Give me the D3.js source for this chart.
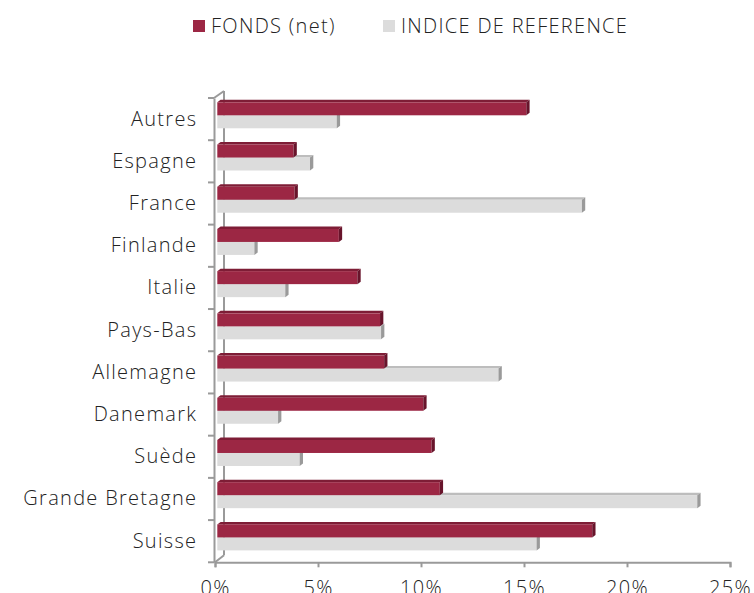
<!DOCTYPE html>
<html>
<head>
<meta charset="utf-8">
<script src="https://cdn.jsdelivr.net/npm/d3@7"></script>
<style>
  html, body { margin: 0; padding: 0; background: #fff; }
  svg text { font-family: "Open Sans", sans-serif; font-weight: 300; fill: #222; letter-spacing: 1.3px; }
</style>
</head>
<body>
<svg id="chart" width="754" height="593"></svg>
<script>
// values, in %
const categories = ["Autres", "Espagne", "France", "Finlande", "Italie", "Pays-Bas",
                    "Allemagne", "Danemark", "Suède", "Grande Bretagne", "Suisse"];
const fonds = [15.0, 3.7, 3.75, 5.9, 6.8, 7.9, 8.1, 10.0, 10.4, 10.8, 18.2];
const indice = [5.8, 4.5, 17.7, 1.8, 3.3, 7.95, 13.65, 2.95, 4.0, 23.3, 15.5];
const seriesNames = ["FONDS (net)", "INDICE DE REFERENCE"];
const xTicks = [0, 5, 10, 15, 20, 25];

const colors = {
    fonds: { front: "#9c2744", top: "#7e1d36", side: "#68142b" },
    indice: { front: "#dcdcdc", top: "#bdbdbd", side: "#9a9a9a" }
};

const svg = d3.select("#chart");

const x = d3.scaleLinear().domain([0, 25]).range([215, 730]);
const y = d3.scaleBand().domain(categories).range([98, 562.3]);

// 3d offsets
const wall = { dx: 9, dy: -7 };
const depth = { dx: 3.3, dy: -2.5 };
const shift = 2.3;
const barH = 13;
const axisColor = "#9a9a9a";

// back wall + floor edges
const g = svg.append("g");
g.append("line")
    .attr("x1", x(0) + wall.dx).attr("x2", x(0) + wall.dx)
    .attr("y1", y.range()[0] + wall.dy).attr("y2", y.range()[1] + wall.dy)
    .attr("stroke", axisColor).attr("stroke-width", 2);
g.append("line")
    .attr("x1", x(0) - 1).attr("y1", y.range()[0])
    .attr("x2", x(0) + wall.dx).attr("y2", y.range()[0] + wall.dy)
    .attr("stroke", axisColor).attr("stroke-width", 2);
g.append("line")
    .attr("x1", x(0)).attr("y1", y.range()[1])
    .attr("x2", x(0) + wall.dx).attr("y2", y.range()[1] + wall.dy)
    .attr("stroke", axisColor).attr("stroke-width", 2);

function drawBar(sel, v, top, c) {
    const x0 = x(0) + shift, x1 = x(v) + shift;
    sel.append("polygon")
        .attr("points", [[x0, top], [x0 + depth.dx, top + depth.dy], [x1 + depth.dx, top + depth.dy], [x1, top]].join(" "))
        .attr("fill", c.top);
    sel.append("rect")
        .attr("x", x0).attr("y", top)
        .attr("width", x1 - x0).attr("height", barH)
        .attr("fill", c.front);
    sel.append("polygon")
        .attr("points", [[x1, top], [x1 + depth.dx, top + depth.dy], [x1 + depth.dx, top + barH + depth.dy], [x1, top + barH]].join(" "))
        .attr("fill", c.side);
}

const bars = svg.append("g");
categories.forEach((cat, i) => {
    const redTop = y(cat) + 4.3;
    const cg = bars.append("g");
    drawBar(cg, indice[i], redTop + barH, colors.indice);
    drawBar(cg, fonds[i], redTop, colors.fonds);
});

// front vertical axis
const yAxis = svg.append("g").attr("transform", "translate(" + (x(0) - 1) + ",0)")
    .call(d3.axisLeft(y).tickSize(0).tickPadding(16.7));
yAxis.select(".domain").attr("stroke", axisColor).attr("stroke-width", 2);
yAxis.selectAll("text").attr("font-size", 20).attr("fill", "#222");
// boundary ticks between categories
yAxis.selectAll(".bnd")
    .data(d3.range(categories.length + 1))
    .join("line")
    .attr("x1", -6).attr("x2", 0)
    .attr("y1", i => y.range()[0] + i * y.step())
    .attr("y2", i => y.range()[0] + i * y.step())
    .attr("stroke", axisColor).attr("stroke-width", 2);

// bottom axis
const xAxis = svg.append("g").attr("transform", "translate(0," + y.range()[1] + ")")
    .call(d3.axisBottom(x).tickValues(xTicks).tickFormat(d => d + "%").tickSize(5).tickPadding(14));
xAxis.select(".domain").attr("stroke", axisColor).attr("stroke-width", 2);
xAxis.selectAll(".tick line").attr("stroke", axisColor).attr("stroke-width", 2);
xAxis.selectAll("text").attr("font-size", 20).attr("fill", "#222");

// legend
const legendX = [193, 383];
const legend = svg.append("g");
seriesNames.forEach((name, i) => {
    legend.append("rect")
        .attr("x", legendX[i]).attr("y", 20)
        .attr("width", 12).attr("height", 12)
        .attr("fill", i === 0 ? colors.fonds.front : colors.indice.front);
    legend.append("text")
        .attr("x", legendX[i] + 18).attr("y", 33)
        .attr("font-size", 20)
        .text(name);
});
</script>
</body>
</html>
